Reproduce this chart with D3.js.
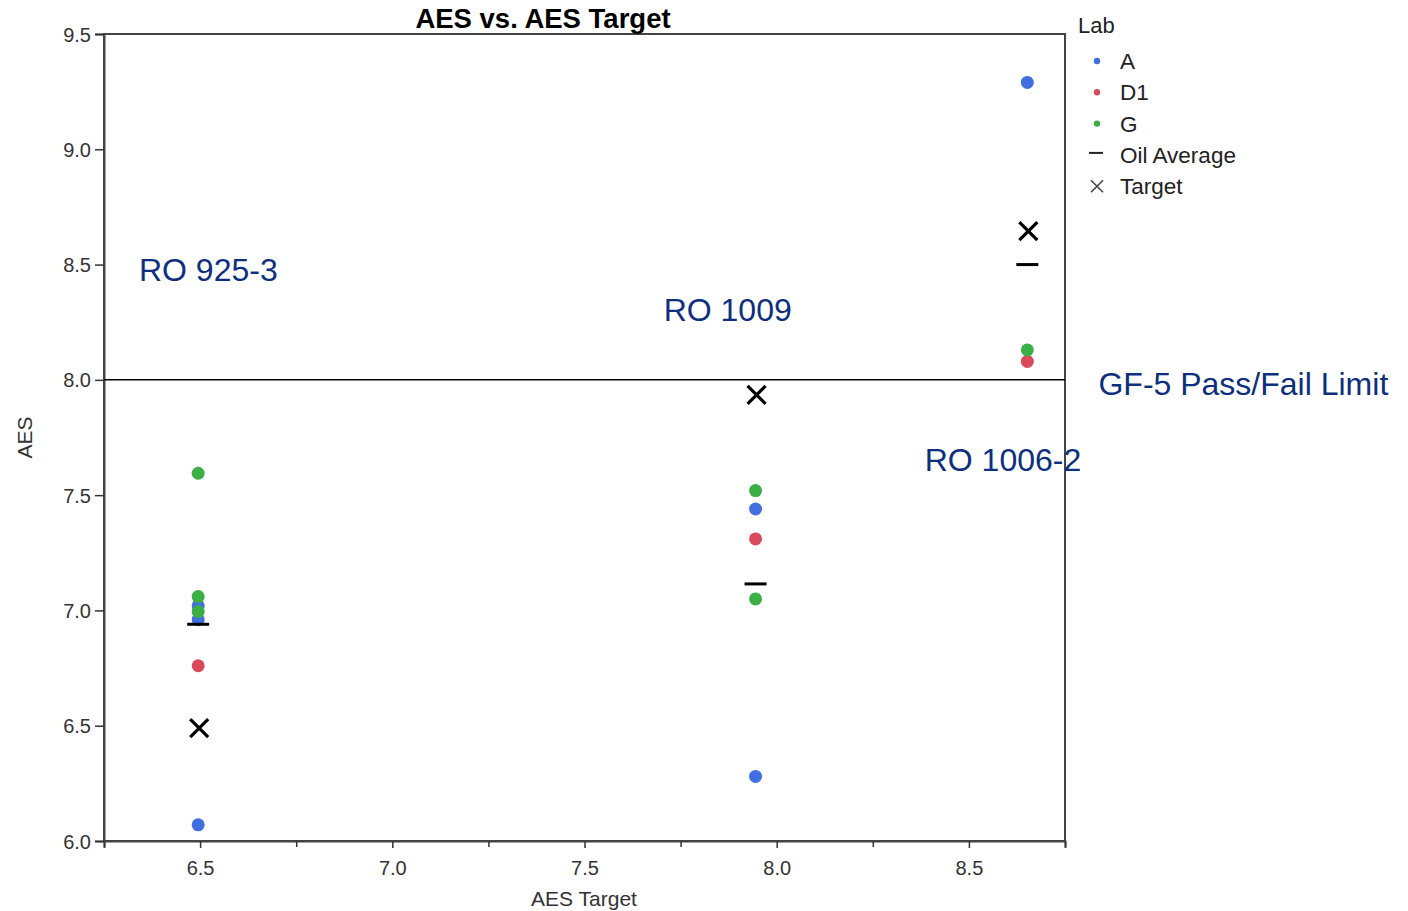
<!DOCTYPE html>
<html>
<head>
<meta charset="utf-8">
<script src="https://cdn.jsdelivr.net/npm/d3@7"></script>
<style>
  html, body { margin: 0; padding: 0; background: #fff; }
  svg { display: block; font-family: "Liberation Sans", Arial, sans-serif; }
</style>
</head>
<body>
<svg id="chart" width="1408" height="911"></svg>
<script>
// ---- data ----
const labs = ["A", "D1", "G"];
const labColors = ["#3f6fe0", "#d9495a", "#3aaf45"];
const pointTargets = [6.495, 6.495, 6.495, 6.495, 6.495, 6.495, 6.495,
                      7.945, 7.945, 7.945, 7.945, 7.945,
                      8.652, 8.652, 8.652];
const pointLabs = ["A", "A", "A", "D1", "G", "G", "G",
                   "A", "A", "D1", "G", "G",
                   "A", "D1", "G"];
const pointAES = [6.07, 6.96, 7.02, 6.76, 6.995, 7.06, 7.595,
                  6.28, 7.44, 7.31, 7.05, 7.52,
                  9.29, 8.08, 8.13];
const oilTargets = [6.495, 7.945, 8.652];
const oilAverage = [6.94, 7.115, 8.50];
const targetValues = [6.49, 7.935, 8.645];
const xTicks = [6.5, 7.0, 7.5, 8.0, 8.5];
const xMinorTicks = [6.25, 6.75, 7.25, 7.75, 8.25, 8.75];
const yTicks = [6.0, 6.5, 7.0, 7.5, 8.0, 8.5, 9.0, 9.5];
const limitValue = 8.0;
const annoText = ["RO 925-3", "RO 1009", "RO 1006-2", "GF-5 Pass/Fail Limit"];
const annoX = [6.341, 7.706, 8.385, 8.837];
const annoY = [8.43, 8.255, 7.605, 7.935];
const legendItems = ["A", "D1", "G", "Oil Average", "Target"];

// ---- layout ----
const svg = d3.select("#chart");
const L = 104, R = 1065, T = 34, B = 841;
const x = d3.scaleLinear().domain([6.25, 8.75]).range([L, R]);
const y = d3.scaleLinear().domain([6.0, 9.5]).range([B, T]);
const color = d3.scaleOrdinal().domain(labs).range(labColors);

// frame
svg.append("rect").attr("x", L).attr("y", T).attr("width", R - L).attr("height", B - T)
  .attr("fill", "none").attr("stroke", "#444").attr("stroke-width", 2);

// axes
const xAxis = svg.append("g").attr("transform", `translate(0,${B})`)
  .call(d3.axisBottom(x).tickValues(xTicks).tickFormat(d3.format(".1f")).tickSizeOuter(0).tickSize(7).tickPadding(13));
const xMinor = svg.append("g").attr("transform", `translate(0,${B})`)
  .call(d3.axisBottom(x).tickValues(xMinorTicks).tickFormat("").tickSizeOuter(0).tickSize(6));
xMinor.select(".domain").remove();
const yAxis = svg.append("g").attr("transform", `translate(${L},0)`)
  .call(d3.axisLeft(y).tickValues(yTicks).tickFormat(d3.format(".1f")).tickSizeOuter(0).tickSize(9).tickPadding(4));
[xAxis, xMinor, yAxis].forEach(g => {
  g.select(".domain").attr("stroke", "#444").attr("stroke-width", 2);
  g.selectAll(".tick line").attr("stroke", "#333").attr("stroke-width", 1.5);
  g.selectAll(".tick text").attr("fill", "#333").style("font-size", "20px")
    .style("font-family", "'Liberation Sans', Arial, sans-serif");
});
yAxis.selectAll(".tick text").attr("dy", "0.35em");

// axis titles
svg.append("text").attr("x", 584).attr("y", 906).attr("text-anchor", "middle")
  .attr("fill", "#333").style("font-size", "21px").text("AES Target");
svg.append("text").attr("transform", `translate(32,${(T + B) / 2}) rotate(-90)`)
  .attr("text-anchor", "middle").attr("fill", "#333").style("font-size", "21px").text("AES");

// title
svg.append("text").attr("x", 543).attr("y", 28).attr("text-anchor", "middle")
  .attr("fill", "#000").style("font-size", "27.5px").style("font-weight", "bold")
  .text("AES vs. AES Target");

// limit line
svg.append("line").attr("x1", L).attr("x2", R).attr("y1", y(limitValue)).attr("y2", y(limitValue))
  .attr("stroke", "#000").attr("stroke-width", 1.5);

// points
svg.append("g").selectAll("circle").data(pointAES).join("circle")
  .attr("cx", (d, i) => x(pointTargets[i]))
  .attr("cy", d => y(d))
  .attr("r", 6.5)
  .attr("fill", (d, i) => color(pointLabs[i]));

// oil average dashes
svg.append("g").selectAll("line").data(oilAverage).join("line")
  .attr("x1", (d, i) => x(oilTargets[i]) - 11)
  .attr("x2", (d, i) => x(oilTargets[i]) + 11)
  .attr("y1", d => y(d)).attr("y2", d => y(d))
  .attr("stroke", "#000").attr("stroke-width", 3);

// target X marks
const xm = svg.append("g").selectAll("g").data(targetValues).join("g")
  .attr("transform", (d, i) => `translate(${x(oilTargets[i]) + 1},${y(d)})`);
xm.append("path").attr("d", "M-9,-9L9,9M-9,9L9,-9")
  .attr("stroke", "#000").attr("stroke-width", 3.2).attr("fill", "none");

// annotations
svg.append("g").selectAll("text").data(annoText).join("text")
  .attr("x", (d, i) => x(annoX[i]))
  .attr("y", (d, i) => y(annoY[i]))
  .attr("fill", "#0d2f7e")
  .style("font-size", "32px")
  .style("font-family", "Arial, 'Liberation Sans', sans-serif")
  .text(d => d);

// legend
const lg = svg.append("g").attr("transform", "translate(1078,0)");
lg.append("text").attr("x", 0).attr("y", 33).attr("fill", "#222").style("font-size", "22px").text("Lab");
const items = lg.selectAll("g.item").data(legendItems).join("g").attr("class", "item")
  .attr("transform", (d, i) => `translate(0,${61 + i * 31.3})`);
items.append("text").attr("x", 42).attr("y", 0).attr("dy", "0.36em")
  .attr("fill", "#222").style("font-size", "22.5px").text(d => d);
items.each(function (d, i) {
  const g = d3.select(this);
  if (i < 3) {
    g.append("circle").attr("cx", 19).attr("cy", 0).attr("r", 3.2).attr("fill", color(labs[i]));
  } else if (d === "Oil Average") {
    g.append("line").attr("x1", 11).attr("x2", 25).attr("y1", -2).attr("y2", -2)
      .attr("stroke", "#222").attr("stroke-width", 2);
  } else {
    g.append("path").attr("d", "M13,-6L25,6M13,6L25,-6").attr("stroke", "#444").attr("stroke-width", 1.6);
  }
});
</script>
</body>
</html>
